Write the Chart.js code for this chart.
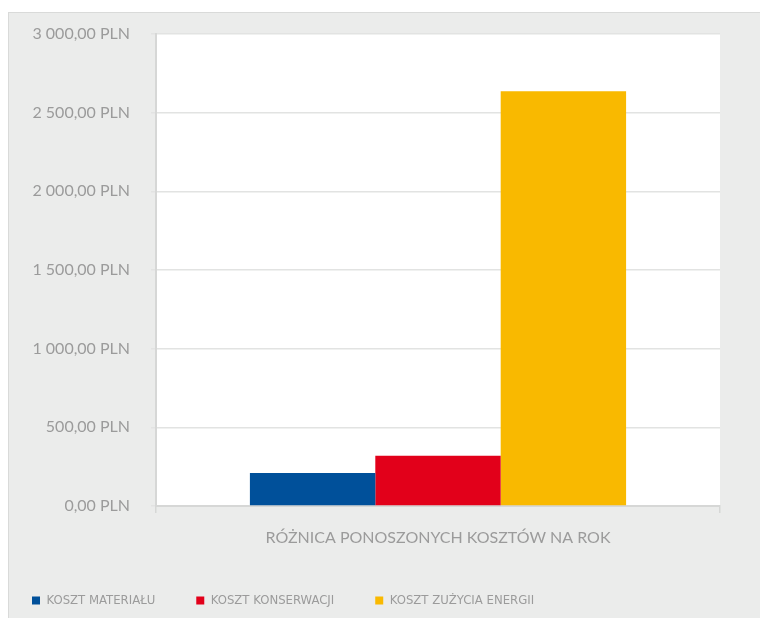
<!DOCTYPE html>
<html>
<head>
<meta charset="utf-8">
<script src="https://cdn.jsdelivr.net/npm/chart.js@4.4.1/dist/chart.umd.min.js"></script>
<style>
  html, body { margin: 0; padding: 0; width: 760px; height: 618px; overflow: hidden; background: #ffffff; }
  #panel { position: absolute; left: 8px; top: 12px; width: 760px; height: 620px; background: #ebeceb; border-left: 1px solid #d9dad9; border-top: 1px solid #d9dad9; }
  #wrap { position: absolute; left: -9px; top: 0; width: 769px; height: 617px; }
</style>
</head>
<body>
<div id="panel"></div>
<div id="wrap"><canvas id="costChart"></canvas></div>
<script>
const categories = ['RÓŻNICA PONOSZONYCH KOSZTÓW NA ROK'];
const seriesNames = ['KOSZT MATERIAŁU', 'KOSZT KONSERWACJI', 'KOSZT ZUŻYCIA ENERGII'];
const materialValues = [210];
const maintenanceValues = [319];
const energyValues = [2636];
const yTickLabels = ['0,00 PLN', '500,00 PLN', '1 000,00 PLN', '1 500,00 PLN', '2 000,00 PLN', '2 500,00 PLN', '3 000,00 PLN'];
const seriesColors = ['#00509a', '#e2001a', '#f9b900'];

const textGray = '#9b9b9b';
const lineGray = '#e2e3e2';

// white plot area on the grey panel
const plotBackground = {
    id: 'plotBackground',
    beforeDraw(chart) {
        const { ctx, chartArea } = chart;
        ctx.save();
        ctx.fillStyle = '#ffffff';
        ctx.fillRect(chartArea.left, chartArea.top, chartArea.right - chartArea.left, chartArea.bottom - chartArea.top);
        ctx.restore();
    }
};

const ctx = document.getElementById('costChart').getContext('2d');
new Chart(ctx, {
    type: 'bar',
    data: {
        labels: categories,
        datasets: [
            { label: seriesNames[0], data: materialValues, backgroundColor: seriesColors[0] },
            { label: seriesNames[1], data: maintenanceValues, backgroundColor: seriesColors[1] },
            { label: seriesNames[2], data: energyValues, backgroundColor: seriesColors[2] }
        ]
    },
    options: {
        responsive: true,
        maintainAspectRatio: false,
        animation: false,
        layout: { padding: { top: 34, right: 40, left: 0, bottom: 0 } },
        datasets: { bar: { categoryPercentage: 0.667, barPercentage: 1.0 } },
        scales: {
            x: {
                grid: { display: true, drawOnChartArea: false, tickLength: 7, color: '#d6d7d6', lineWidth: 1.5 },
                border: { display: true, color: '#d6d7d6', width: 2 },
                ticks: { color: textGray, font: { family: 'Lato', size: 16 }, padding: 15, maxRotation: 0 },
                afterFit(scale) { scale.height = 47; }
            },
            y: {
                min: 0,
                max: 3000,
                grid: { color: lineGray, lineWidth: 1.5, tickLength: 5, tickColor: lineGray },
                border: { display: true, color: '#d6d7d6', width: 2 },
                ticks: {
                    stepSize: 500,
                    color: textGray,
                    padding: 21,
                    font: { family: 'Lato', size: 16 },
                    callback: (value, index) => yTickLabels[index]
                },
                afterFit(scale) { scale.width = 165; }
            }
        },
        plugins: {
            legend: {
                position: 'bottom',
                align: 'start',
                labels: {
                    boxWidth: 8,
                    boxHeight: 8,
                    padding: 41,
                    color: textGray,
                    font: { family: "'Liberation Sans Narrow', 'DejaVu Sans Condensed', sans-serif", size: 13 }
                }
            },
            tooltip: { enabled: false }
        }
    },
    plugins: [plotBackground]
});
</script>
</body>
</html>
